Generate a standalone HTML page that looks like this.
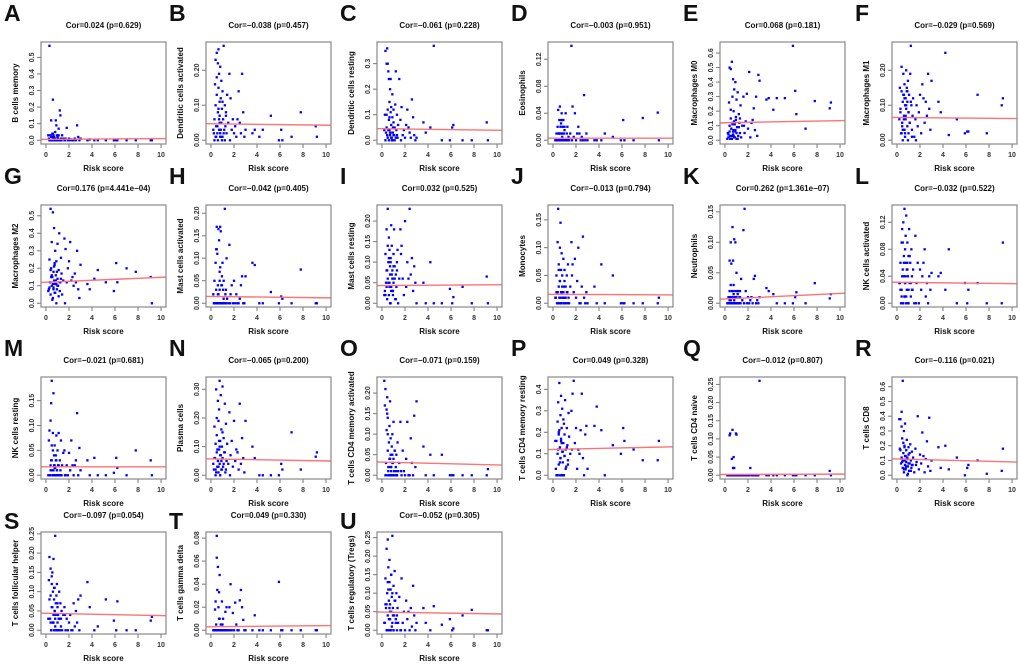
<!DOCTYPE html>
<html><head><meta charset="utf-8">
<style>
html,body{margin:0;padding:0;background:#fff;}
svg{display:block;font-family:"Liberation Sans",Arial,sans-serif;}
</style></head>
<body>
<svg id="fig" width="1020" height="666" viewBox="0 0 1020 666" xmlns="http://www.w3.org/2000/svg"></svg>
<script>
const riskScore=[0.25,0.3,0.35,0.4,0.4,0.45,0.5,0.5,0.55,0.6,0.6,0.65,0.65,0.7,0.7,0.75,0.75,0.8,0.8,0.85,0.9,0.9,0.95,1.0,1.0,1.05,1.1,1.15,1.2,1.25,1.3,1.35,1.4,1.5,0.3,0.45,0.55,0.6,0.7,0.8,0.85,0.95,1.0,1.1,1.2,0.5,0.65,0.75,0.9,1.3,1.6,1.7,1.8,1.9,2.0,2.1,2.2,2.4,2.5,2.6,2.7,2.8,2.9,3.0,1.65,2.3,0.2,0.4,3.6,3.8,4.2,4.5,5.2,5.9,6.1,6.2,7.0,7.8,9.1,9.2];
const panelLetters=["A","B","C","D","E","F","G","H","I","J","K","L","M","N","O","P","Q","R","S","T","U"];
const cellTypes=["B cells memory","Dendritic cells activated","Dendritic cells resting","Eosinophils","Macrophages M0","Macrophages M1","Macrophages M2","Mast cells activated","Mast cells resting","Monocytes","Neutrophils","NK cells activated","NK cells resting","Plasma cells","T cells CD4 memory activated","T cells CD4 memory resting","T cells CD4 naive","T cells CD8","T cells follicular helper","T cells gamma delta","T cells regulatory (Tregs)"];
const corLabels=["Cor=0.024 (p=0.629)","Cor=\u22120.038 (p=0.457)","Cor=\u22120.061 (p=0.228)","Cor=\u22120.003 (p=0.951)","Cor=0.068 (p=0.181)","Cor=\u22120.029 (p=0.569)","Cor=0.176 (p=4.441e\u221204)","Cor=\u22120.042 (p=0.405)","Cor=0.032 (p=0.525)","Cor=\u22120.013 (p=0.794)","Cor=0.262 (p=1.361e\u221207)","Cor=\u22120.032 (p=0.522)","Cor=\u22120.021 (p=0.681)","Cor=\u22120.065 (p=0.200)","Cor=\u22120.071 (p=0.159)","Cor=0.049 (p=0.328)","Cor=\u22120.012 (p=0.807)","Cor=\u22120.116 (p=0.021)","Cor=\u22120.097 (p=0.054)","Cor=0.049 (p=0.330)","Cor=\u22120.052 (p=0.305)"];
const xTickLabels=["0","2","4","6","8","10"];
const yA=[0.01,0.57,0,0.03,0,0.12,0,0.02,0.04,0.245,0,0.01,0.03,0,0.02,0,0.01,0.05,0,0.12,0,0.09,0,0.02,0,0.01,0.03,0,0.18,0.15,0.01,0,0.03,0.01,0,0.02,0,0.04,0,0.01,0,0.03,0,0.07,0,0.02,0,0.01,0,0.005,0,0.01,0.075,0,0.01,0,0.005,0,0.01,0,0.09,0.02,0,0.01,0,0,0.03,0,0,0.005,0,0,0,0,0,0,0,0,0,0];
const yB=[0.02,0.06,0.16,0.10,0.23,0.01,0.25,0.13,0.04,0.22,0.08,0.15,0.26,0.03,0.19,0.11,0.07,0.21,0.02,0.12,0.05,0.17,0.09,0.01,0.14,0.06,0.27,0.03,0.10,0.04,0.08,0.02,0.13,0.05,0,0.04,0.02,0,0.06,0.01,0.03,0,0.11,0.02,0,0.18,0.09,0.05,0.01,0.07,0.19,0.12,0.03,0.06,0.02,0.04,0.01,0.14,0.05,0.02,0.19,0.08,0.01,0.03,0,0.06,0.03,0.01,0.02,0.03,0.01,0.03,0.07,0,0.03,0,0.01,0.08,0.04,0.01];
const yC=[0.10,0.35,0.03,0.30,0.05,0.36,0.12,0.01,0.27,0.08,0.24,0.04,0.15,0.20,0.02,0.11,0.24,0.06,0.13,0.01,0.09,0.18,0.03,0.07,0.12,0.02,0.05,0.14,0.27,0.04,0.10,0.01,0.06,0.24,0,0.02,0.04,0,0.03,0.01,0,0.05,0.02,0,0.01,0.30,0.09,0.03,0,0.02,0.08,0.13,0.02,0.04,0.01,0.06,0.12,0.03,0.01,0.16,0.09,0.02,0,0.01,0,0.05,0.04,0.1,0.07,0.03,0.05,0.37,0,0,0.05,0.06,0,0,0.07,0];
const yD=[0,0.01,0,0.02,0,0.045,0.01,0,0.03,0,0.05,0.02,0,0.01,0.025,0,0.04,0.01,0,0.02,0,0.03,0.01,0,0.015,0,0.04,0,0.01,0.02,0,0.005,0,0.01,0,0,0.01,0,0,0.005,0,0,0.02,0,0,0.01,0,0.03,0,0,0.14,0.05,0.005,0.04,0,0.01,0.02,0,0.005,0,0.067,0,0.01,0,0,0.01,0,0,0,0,0,0.01,0.005,0,0.03,0,0,0.033,0.041,0];
const yE=[0.05,0.02,0.26,0.10,0.50,0.03,0.15,0.49,0.08,0.01,0.54,0.12,0.30,0.04,0.42,0.07,0.20,0.02,0.35,0.11,0.06,0.40,0.14,0.01,0.28,0.09,0.33,0.03,0.18,0.12,0.05,0.24,0.02,0.10,0.04,0.01,0.08,0.03,0.06,0.13,0.02,0.16,0.05,0.01,0.09,0.21,0.11,0.03,0.07,0.15,0.30,0.05,0.13,0.32,0.08,0.47,0.02,0.14,0.22,0.07,0.30,0.03,0.45,0.41,0.10,0.12,0.01,0.06,0.28,0.29,0.21,0.29,0.29,0.65,0.34,0.18,0.08,0.27,0.22,0.26];
const yF=[0.15,0.08,0.02,0.14,0.21,0.05,0.11,0.00,0.19,0.07,0.13,0.03,0.16,0.10,0.01,0.12,0.06,0.20,0.09,0.14,0.04,0.11,0.17,0.02,0.08,0.13,0.05,0.19,0.27,0.10,0.03,0.07,0.12,0.01,0.09,0.04,0.13,0.06,0.02,0.10,0.15,0.00,0.08,0.05,0.11,0.03,0.12,0.07,0.14,0.01,0.06,0.10,0.04,0.08,0.13,0.02,0.16,0.05,0.11,0.07,0.19,0.09,0.03,0.17,0.00,0.12,0.06,0.02,0.11,0.08,0.25,0.015,0.06,0.02,0.025,0.025,0.13,0.02,0.10,0.12];
const yG=[0.08,0.25,0.12,0.54,0.05,0.20,0.10,0.35,0.15,0.03,0.52,0.18,0.09,0.43,0.13,0.22,0.06,0.11,0.30,0.16,0.00,0.24,0.08,0.14,0.34,0.10,0.19,0.40,0.07,0.12,0.26,0.17,0.05,0.13,0.09,0.15,0.02,0.11,0.21,0.06,0.13,0.18,0.10,0.04,0.12,0.16,0.08,0.23,0.11,0.14,0.37,0.31,0.12,0.20,0.24,0.35,0.13,0.10,0.17,0.12,0.30,0.08,0.03,0.22,0.00,0.15,0.07,0.19,0.11,0.08,0.14,0.19,0.12,0.07,0.23,0.12,0.20,0.18,0.15,0.00];
const yH=[0,0.05,0,0.09,0,0.12,0.17,0,0.11,0.04,0,0.165,0.02,0.14,0,0.07,0.03,0.17,0,0.16,0.04,0,0.06,0.09,0,0.03,0.05,0,0.21,0.02,0,0.10,0.01,0,0,0.03,0,0.02,0,0.08,0,0.04,0,0.01,0,0.12,0,0.05,0,0.03,0.13,0.02,0.04,0,0.05,0,0.02,0,0.01,0.04,0.06,0,0,0.06,0,0,0.02,0,0.09,0.085,0,0,0.025,0,0.015,0.01,0,0.075,0,0];
const yI=[0.03,0.12,0.05,0.08,0.18,0.01,0.23,0.06,0.10,0.02,0.16,0.04,0.13,0.07,0.09,0.00,0.11,0.19,0.03,0.14,0.06,0.08,0.02,0.12,0.05,0.18,0.09,0.01,0.07,0.04,0.10,0.13,0.00,0.06,0.02,0.08,0.05,0.11,0.00,0.04,0.07,0.03,0.09,0.06,0.01,0.14,0.05,0.10,0.03,0.08,0.18,0.14,0.06,0.02,0.20,0.04,0.10,0.23,0.07,0.11,0.03,0.09,0.05,0.00,0.12,0.06,0.02,0.04,0.05,0.00,0.10,0.00,0.00,0.035,0.00,0.015,0.04,0.00,0.065,0.00];
const yJ=[0.01,0.05,0.00,0.11,0.02,0.17,0.03,0.07,0.00,0.10,0.04,0.145,0.01,0.06,0.02,0.09,0.00,0.03,0.05,0.01,0.08,0.02,0.00,0.04,0.06,0.01,0.03,0.00,0.05,0.02,0.07,0.01,0.00,0.03,0.02,0.00,0.01,0.04,0.00,0.02,0.01,0.03,0.00,0.01,0.02,0.06,0.00,0.02,0.01,0.00,0.11,0.07,0.02,0.08,0.01,0.04,0.10,0.00,0.03,0.12,0.01,0.00,0.02,0.00,0.05,0.00,0.01,0.02,0.03,0.00,0.07,0.00,0.05,0.00,0.00,0.00,0.00,0.00,0.00,0.01];
const yK=[0,0.01,0,0.02,0.07,0,0.10,0.005,0.065,0,0.01,0.125,0,0.02,0.07,0,0.03,0.01,0.105,0,0.02,0.10,0,0.01,0.05,0,0.015,0.02,0,0.01,0.02,0,0.04,0.005,0,0.01,0,0.02,0,0.005,0,0.01,0,0.02,0,0.03,0,0.015,0,0.01,0.12,0.155,0.02,0,0.01,0,0.005,0,0.04,0.045,0,0.005,0,0.01,0,0.01,0,0.005,0.025,0.02,0.015,0,0,0,0.01,0.018,0,0.033,0.008,0.015];
const yL=[0.03,0.06,0.00,0.09,0.02,0.11,0.05,0.00,0.12,0.04,0.07,0.14,0.01,0.08,0.03,0.10,0.06,0.00,0.13,0.02,0.05,0.09,0.04,0.07,0.00,0.11,0.03,0.06,0.01,0.08,0.04,0.02,0.05,0.00,0.02,0.04,0.00,0.06,0.03,0.01,0.05,0.00,0.02,0.07,0.03,0.09,0.01,0.04,0.06,0.02,0.10,0.03,0.06,0.00,0.05,0.02,0.04,0.08,0.01,0.03,0.00,0.04,0.02,0.045,0.00,0.06,0.03,0.01,0.04,0.045,0.02,0.08,0.00,0.03,0.00,0.02,0.03,0.00,0.00,0.09];
const yM=[0.07,0.09,0.00,0.11,0.02,0.145,0.19,0.03,0.00,0.05,0.085,0.01,0.165,0.00,0.04,0.02,0.06,0.00,0.015,0.03,0.00,0.08,0.01,0.05,0.00,0.02,0.085,0.00,0.03,0.01,0.07,0.00,0.02,0.045,0.00,0.03,0.01,0.00,0.02,0.00,0.04,0.01,0.00,0.02,0.00,0.06,0.00,0.015,0.03,0.00,0.05,0.00,0.02,0.00,0.045,0.01,0.07,0.00,0.02,0.03,0.125,0.00,0.055,0.01,0.00,0.02,0.00,0.01,0.03,0.00,0.035,0.00,0.00,0.005,0.035,0.015,0.00,0.05,0.03,0.00];
const yN=[0.02,0.17,0.06,0.11,0.00,0.30,0.08,0.14,0.03,0.26,0.05,0.19,0.01,0.23,0.09,0.33,0.04,0.12,0.07,0.28,0.02,0.16,0.10,0.06,0.31,0.03,0.13,0.08,0.25,0.01,0.18,0.05,0.11,0.04,0.06,0.01,0.09,0.03,0.12,0.00,0.07,0.02,0.15,0.04,0.08,0.20,0.03,0.10,0.05,0.02,0.22,0.07,0.12,0.03,0.19,0.05,0.09,0.02,0.25,0.04,0.13,0.06,0.01,0.19,0.00,0.08,0.04,0.02,0.10,0.06,0.00,0.00,0.00,0.00,0.04,0.02,0.15,0.02,0.065,0.08];
const yO=[0.17,0.21,0.03,0.11,0.00,0.19,0.06,0.14,0.01,0.08,0.00,0.12,0.04,0.18,0.00,0.05,0.09,0.02,0.00,0.07,0.03,0.10,0.00,0.04,0.13,0.01,0.06,0.00,0.02,0.05,0.00,0.08,0.01,0.03,0.00,0.15,0.02,0.00,0.04,0.01,0.00,0.03,0.00,0.06,0.01,0.10,0.00,0.02,0.05,0.00,0.13,0.00,0.06,0.01,0.00,0.04,0.13,0.00,0.09,0.03,0.00,0.145,0.02,0.18,0.01,0.00,0.23,0.16,0.07,0.00,0.05,0.00,0.05,0.00,0.00,0.00,0.00,0.00,0.00,0.015];
const yP=[0.03,0.16,0.00,0.25,0.10,0.34,0.05,0.20,0.43,0.13,0.00,0.28,0.08,0.37,0.17,0.00,0.22,0.11,0.31,0.06,0.15,0.26,0.00,0.09,0.19,0.35,0.12,0.04,0.22,0.14,0.07,0.29,0.18,0.10,0.00,0.12,0.21,0.06,0.16,0.00,0.11,0.24,0.09,0.03,0.13,0.19,0.08,0.15,0.00,0.05,0.30,0.38,0.44,0.15,0.22,0.03,0.12,0.21,0.38,0.08,0.00,0.19,0.23,0.03,0.12,0.10,0.16,0.00,0.23,0.32,0.21,0.00,0.14,0.10,0.22,0.16,0.12,0.07,0.07,0.16];
const yQ=[0,0,0,0.11,0,0.115,0,0,0,0.045,0,0.125,0,0.02,0,0.05,0,0,0.02,0,0,0,0.115,0,0.112,0,0,0,0,0,0,0,0,0,0,0,0,0,0,0,0,0,0,0,0,0,0,0,0,0,0,0,0,0,0,0,0.02,0,0,0,0,0,0,0.26,0,0,0,0,0,0,0,0,0,0,0,0,0,0,0.012,0];
const yR=[0.18,0.38,0.08,0.43,0.12,0.25,0.05,0.64,0.15,0.30,0.02,0.10,0.20,0.07,0.35,0.13,0.04,0.17,0.09,0.24,0.00,0.11,0.06,0.19,0.14,0.03,0.08,0.21,0.10,0.05,0.16,0.07,0.12,0.02,0.17,0.09,0.22,0.04,0.13,0.06,0.11,0.01,0.08,0.15,0.03,0.10,0.19,0.05,0.12,0.07,0.18,0.09,0.40,0.04,0.14,0.08,0.29,0.02,0.11,0.23,0.06,0.39,0.03,0.10,0.07,0.13,0.38,0.33,0.19,0.05,0.20,0.04,0.12,0.00,0.05,0.07,0.10,0.01,0.03,0.18];
const yS=[0.13,0.19,0.03,0.09,0.16,0.00,0.12,0.06,0.15,0.02,0.10,0.185,0.04,0.08,0.00,0.11,0.05,0.245,0.03,0.07,0.00,0.09,0.12,0.02,0.06,0.04,0.00,0.10,0.03,0.07,0.01,0.05,0.00,0.04,0.08,0.00,0.06,0.02,0.11,0.01,0.04,0.00,0.07,0.03,0.00,0.14,0.02,0.05,0.00,0.03,0.06,0.00,0.03,0.00,0.02,0.04,0.00,0.07,0.01,0.05,0.02,0.08,0.00,0.09,0.04,0.00,0.03,0.02,0.125,0.06,0.00,0.01,0.08,0.025,0.00,0.075,0.00,0.00,0.025,0.035];
const yT=[0,0,0.018,0,0.025,0,0.082,0,0.035,0,0.055,0,0.02,0,0.033,0,0.01,0,0,0.005,0,0,0.025,0,0,0.01,0,0,0,0.016,0,0.02,0,0,0,0.005,0,0,0.01,0,0,0,0.005,0,0,0.063,0,0.048,0,0,0.02,0.04,0,0.015,0,0.024,0.005,0,0.026,0.035,0.02,0.009,0,0,0,0,0,0,0,0.013,0,0,0,0.042,0,0,0,0,0,0];
const yU=[0.02,0.14,0.06,0.22,0.00,0.10,0.245,0.04,0.17,0.08,0.00,0.13,0.19,0.03,0.07,0.11,0.00,0.05,0.15,0.09,0.02,0.255,0.06,0.12,0.00,0.04,0.16,0.08,0.03,0.10,0.00,0.06,0.02,0.09,0.07,0.00,0.11,0.03,0.05,0.15,0.01,0.04,0.00,0.08,0.02,0.13,0.06,0.00,0.10,0.04,0.00,0.14,0.02,0.05,0.00,0.08,0.03,0.00,0.06,0.01,0.12,0.04,0.00,0.02,0.00,0.05,0.02,0.07,0.06,0.02,0.00,0.065,0.015,0.03,0.00,0.005,0.04,0.055,0.00,0.00];
const yData=[yA,yB,yC,yD,yE,yF,yG,yH,yI,yJ,yK,yL,yM,yN,yO,yP,yQ,yR,yS,yT,yU];
const fitAtZero=[0.005,0.047,0.045,0.003,0.12,0.065,0.12,0.015,0.043,0.016,0.007,0.031,0.017,0.057,0.032,0.12,0.002,0.11,0.044,0.003,0.049];
const fitAtTen=[0.01,0.043,0.039,0.003,0.135,0.062,0.148,0.012,0.045,0.015,0.016,0.029,0.017,0.05,0.025,0.132,0.003,0.09,0.038,0.004,0.044];
const T1=["0.0","0.1","0.2","0.3","0.4","0.5"],T5=["0.00","0.05","0.10","0.15","0.20"],T4=["0.00","0.04","0.08","0.12"];
const yTickLabels=[T1,["0.00","0.10","0.20"],["0.0","0.1","0.2","0.3"],T4,["0.0","0.1","0.2","0.3","0.4","0.5","0.6"],["0.00","0.10","0.20"],T1,T5,T5,["0.00","0.05","0.10","0.15"],["0.00","0.05","0.10","0.15"],T4,["0.00","0.05","0.10","0.15"],["0.00","0.10","0.20","0.30"],T5,["0.0","0.1","0.2","0.3","0.4"],["0.00","0.05","0.10","0.15","0.20","0.25"],["0.0","0.1","0.2","0.3","0.4","0.5","0.6"],["0.00","0.05","0.10","0.15","0.20","0.25"],["0.00","0.02","0.04","0.06","0.08"],["0.00","0.05","0.10","0.15","0.20","0.25"]];

const NS="http://www.w3.org/2000/svg";
const svg=document.getElementById('fig');
const colLeft=[41,206,377,548,720,892], rowTop=[42,205,377,532];
const BW=125, BH=102;
function mk(tag,attrs,parent){const e=document.createElementNS(NS,tag);for(const k in attrs)e.setAttribute(k,attrs[k]);parent.appendChild(e);return e;}

yData.forEach((ys,i)=>{
  const r=Math.floor(i/6), c=i%6;
  const L=colLeft[c], T=rowTop[r];
  const g=mk('g',{},svg);
  
  
  const ymax=Math.max(...ys);
  const y0=-0.04*ymax, y1=1.04*ymax;
  const sx=v=>L+(v+0.43)/10.86*BW;
  const sy=v=>T+BH-(v-y0)/(y1-y0)*BH;
  const lt=mk('text',{x:L-37,y:(r<3?T-21:T-3),'font-size':23,'font-weight':'bold',fill:'#111'},g);
  lt.textContent=panelLetters[i];
  
  
  const tt=mk('text',{x:L+BW/2,y:T-14,'font-size':8,'font-weight':'bold','text-anchor':'middle',fill:'#111'},g);
  tt.textContent=corLabels[i];
  
  
  const yl=mk('text',{x:0,y:0,'font-size':8,'font-weight':'bold','text-anchor':'middle',fill:'#111',transform:`translate(${L-23},${T+BH/2}) rotate(-90)`},g);
  yl.textContent=cellTypes[i];
  
  
  const xl=mk('text',{x:L+BW/2,y:T+BH+27,'font-size':8,'font-weight':'bold','text-anchor':'middle',fill:'#111'},g);
  xl.textContent='Risk score';
  
  
  mk('line',{x1:sx(0),x2:sx(10),y1:T+BH,y2:T+BH,stroke:'#777','stroke-width':1},g);
  xTickLabels.forEach(lb=>{
    const v=parseFloat(lb);
    mk('line',{x1:sx(v),x2:sx(v),y1:T+BH,y2:T+BH+4,stroke:'#777','stroke-width':1},g);
    const t=mk('text',{x:sx(v),y:T+BH+13,'font-size':7,'font-weight':'bold','text-anchor':'middle',fill:'#333'},g);
    t.textContent=lb;
    
    
  });
  yTickLabels[i].forEach(lb=>{
    const v=parseFloat(lb);
    mk('line',{x1:L-4,x2:L,y1:sy(v),y2:sy(v),stroke:'#777','stroke-width':1},g);
    const t=mk('text',{x:0,y:0,'font-size':7,'font-weight':'bold','text-anchor':'middle',fill:'#333',transform:`translate(${L-7},${sy(v)}) rotate(-90)`},g);
    t.textContent=lb;
    
    
  });
  ys.forEach((v,k)=>{
    const p=mk('rect',{x:sx(riskScore[k])-1.1,y:sy(v)-1.1,width:2.3,height:2.3,fill:'#0000ff'},g);
    
    
  });
  const slope=(fitAtTen[i]-fitAtZero[i])/10;
  const xa=-0.43, xb=10.43;
  const fl=mk('line',{x1:sx(xa),x2:sx(xb),y1:sy(fitAtZero[i]+slope*xa),y2:sy(fitAtZero[i]+slope*xb),stroke:'#ff7373','stroke-width':1.4},g);
  
  
  const box=mk('rect',{x:L,y:T,width:BW,height:BH,fill:'none',stroke:'#888','stroke-width':1.2},g);
  
  
});
</script>
</body></html>
